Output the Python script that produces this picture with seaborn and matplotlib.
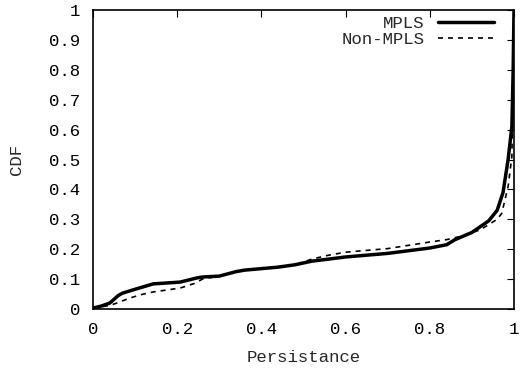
import pandas as pd
import matplotlib
matplotlib.use("Agg")
import matplotlib.pyplot as plt
import seaborn as sns

# =========================
# DATA
# =========================
mpls_x = [0.0, 0.02, 0.04, 0.06, 0.07, 0.10, 0.143, 0.207, 0.247, 0.26, 0.30, 0.34,
          0.36, 0.40, 0.44, 0.48, 0.52, 0.60, 0.70, 0.80, 0.84, 0.86, 0.90, 0.94,
          0.96, 0.974, 0.986, 0.995, 0.998, 1.0]
mpls_y = [0.003, 0.01, 0.02, 0.045, 0.053, 0.066, 0.084, 0.09, 0.104, 0.107, 0.11, 0.125,
          0.13, 0.135, 0.14, 0.148, 0.16, 0.174, 0.186, 0.204, 0.215, 0.232, 0.256, 0.295,
          0.33, 0.39, 0.50, 0.61, 0.80, 1.0]

non_x = [0.0, 0.04, 0.057, 0.088, 0.12, 0.143, 0.207, 0.24, 0.26, 0.30, 0.34, 0.40,
         0.48, 0.52, 0.56, 0.60, 0.70, 0.80, 0.84, 0.88, 0.92, 0.96, 0.971, 0.986,
         0.995, 1.0]
non_y = [0.003, 0.012, 0.02, 0.037, 0.05, 0.057, 0.07, 0.085, 0.10, 0.11, 0.125, 0.135,
         0.148, 0.167, 0.18, 0.19, 0.202, 0.224, 0.232, 0.245, 0.265, 0.30, 0.32, 0.41,
         0.51, 1.0]

df = pd.concat([
    pd.DataFrame({"x": mpls_x, "y": mpls_y, "series": "MPLS"}),
    pd.DataFrame({"x": non_x, "y": non_y, "series": "Non-MPLS"}),
])

# =========================
# PLOT
# =========================
sns.set_style("white")
plt.rcParams["font.family"] = ["Liberation Mono", "DejaVu Sans Mono"]

fig = plt.figure(figsize=(5.22, 3.73), dpi=100)
ax = fig.add_axes([93 / 522, 1 - 309 / 373, 421 / 522, 299 / 373])

sns.lineplot(data=df, x="x", y="y", hue="series", style="series",
             palette=["black", "black"], dashes={"MPLS": "", "Non-MPLS": (3, 3)},
             sort=False, ax=ax, legend=False)
ax.lines[0].set_linewidth(2.5)
ax.lines[1].set_linewidth(1.2)

ax.set_xlim(0, 1)
ax.set_ylim(0, 1)
ax.set_xticks([0, 0.2, 0.4, 0.6, 0.8, 1])
ax.set_xticklabels(["0", "0.2", "0.4", "0.6", "0.8", "1"])
ax.set_yticks([i / 10 for i in range(11)])
ax.set_yticklabels(["0"] + [f"0.{i}" for i in range(1, 10)] + ["1"])
ax.tick_params(direction="in", length=5, width=0.8, top=True, right=True,
               labelsize=12.5, colors="black", pad=9)
ax.set_xlabel("Persistance", fontsize=12.5, labelpad=10)
ax.set_ylabel("CDF", fontsize=12.5, labelpad=18)
for s in ax.spines.values():
    s.set_color("black")
    s.set_linewidth(1.2)

h1, = ax.plot([], [], color="black", lw=2.5)
h2, = ax.plot([], [], color="black", lw=1.2, dashes=(3, 3))
ax.legend([h1, h2], ["MPLS", "Non-MPLS"], loc="upper right", frameon=False,
          markerfirst=False, fontsize=12.5, handlelength=3.2, labelspacing=0.05,
          borderaxespad=0.3, handletextpad=0.8,
          bbox_to_anchor=(1 - 8 / 421, 1 + 6 / 299))

fig.savefig("out.png", dpi=100)
